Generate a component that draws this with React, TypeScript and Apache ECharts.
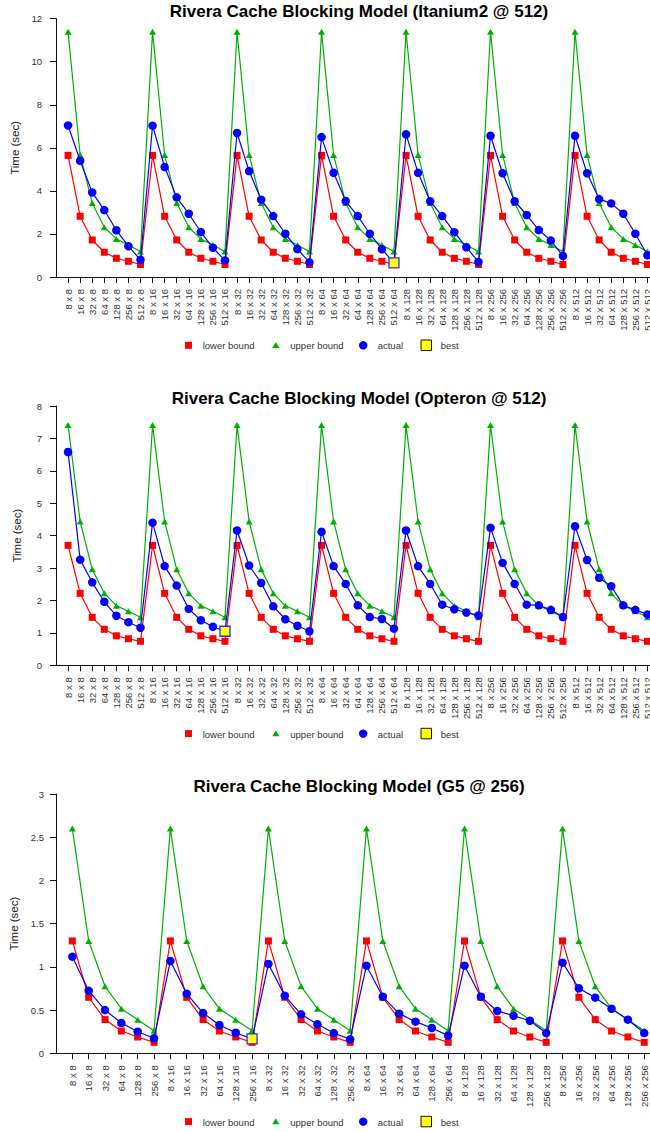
import React, { useEffect, useRef } from "react";
import * as echarts from "echarts";

// ---------- data ----------
const blocks512 = [8, 16, 32, 64, 128, 256, 512];
const blocks256 = [8, 16, 32, 64, 128, 256];

const labels512 = blocks512.flatMap((outer) => blocks512.map((inner) => `${inner} x ${outer}`));
const labels256 = blocks256.flatMap((outer) => blocks256.map((inner) => `${inner} x ${outer}`));

const itaniumLower = [
  5.65, 2.82, 1.72, 1.15, 0.87, 0.73, 0.58,
  5.65, 2.82, 1.72, 1.15, 0.87, 0.73, 0.58,
  5.65, 2.82, 1.72, 1.15, 0.87, 0.73, 0.58,
  5.65, 2.82, 1.72, 1.15, 0.87, 0.73, 0.58,
  5.65, 2.82, 1.72, 1.15, 0.87, 0.73, 0.58,
  5.65, 2.82, 1.72, 1.15, 0.87, 0.73, 0.58,
  5.65, 2.82, 1.72, 1.15, 0.87, 0.73, 0.58,
];
const itaniumUpper = [
  11.39, 5.67, 3.44, 2.31, 1.77, 1.49, 1.18,
  11.39, 5.67, 3.44, 2.31, 1.77, 1.49, 1.18,
  11.39, 5.67, 3.44, 2.31, 1.77, 1.49, 1.18,
  11.39, 5.67, 3.44, 2.31, 1.77, 1.49, 1.18,
  11.39, 5.67, 3.44, 2.31, 1.77, 1.49, 1.18,
  11.39, 5.67, 3.44, 2.31, 1.77, 1.49, 1.18,
  11.39, 5.67, 3.44, 2.31, 1.77, 1.49, 1.18,
];
const itaniumActual = [
  7.04, 5.40, 3.93, 3.11, 2.17, 1.43, 0.80,
  7.03, 5.11, 3.70, 2.94, 2.09, 1.36, 0.77,
  6.69, 4.92, 3.59, 2.83, 2.01, 1.30, 0.68,
  6.50, 4.84, 3.53, 2.83, 2.01, 1.29, 0.66,
  6.63, 4.84, 3.52, 2.83, 2.08, 1.38, 0.70,
  6.56, 4.82, 3.52, 2.88, 2.18, 1.69, 0.98,
  6.56, 4.82, 3.62, 3.42, 2.94, 2.01, 1.01,
];
const itaniumBestLabel = "512 x 64";
const itaniumBestValue = 0.66;

const opteronLower = [
  3.70, 2.22, 1.48, 1.11, 0.91, 0.82, 0.74,
  3.70, 2.22, 1.48, 1.11, 0.91, 0.82, 0.74,
  3.70, 2.22, 1.48, 1.11, 0.91, 0.82, 0.74,
  3.70, 2.22, 1.48, 1.11, 0.91, 0.82, 0.74,
  3.70, 2.22, 1.48, 1.11, 0.91, 0.82, 0.74,
  3.70, 2.22, 1.48, 1.11, 0.91, 0.82, 0.74,
  3.70, 2.22, 1.48, 1.11, 0.91, 0.82, 0.74,
];
const opteronUpper = [
  7.41, 4.44, 2.96, 2.22, 1.84, 1.67, 1.48,
  7.41, 4.44, 2.96, 2.22, 1.84, 1.67, 1.48,
  7.41, 4.44, 2.96, 2.22, 1.84, 1.67, 1.48,
  7.41, 4.44, 2.96, 2.22, 1.84, 1.67, 1.48,
  7.41, 4.44, 2.96, 2.22, 1.84, 1.67, 1.48,
  7.41, 4.44, 2.96, 2.22, 1.84, 1.67, 1.48,
  7.41, 4.44, 2.96, 2.22, 1.84, 1.67, 1.48,
];
const opteronActual = [
  6.58, 3.26, 2.56, 1.96, 1.53, 1.33, 1.16,
  4.40, 3.06, 2.46, 1.74, 1.39, 1.19, 1.05,
  4.16, 3.08, 2.54, 1.82, 1.42, 1.22, 1.05,
  4.12, 3.06, 2.51, 1.85, 1.49, 1.43, 1.13,
  4.16, 3.06, 2.51, 1.87, 1.73, 1.63, 1.54,
  4.24, 3.16, 2.51, 1.87, 1.85, 1.71, 1.49,
  4.29, 3.25, 2.70, 2.44, 1.85, 1.71, 1.57,
];
const opteronBestLabel = "512 x 16";
const opteronBestValue = 1.05;

const g5Lower = [
  1.30, 0.648, 0.39, 0.258, 0.189, 0.127,
  1.30, 0.648, 0.39, 0.258, 0.189, 0.127,
  1.30, 0.648, 0.39, 0.258, 0.189, 0.127,
  1.30, 0.648, 0.39, 0.258, 0.189, 0.127,
  1.30, 0.648, 0.39, 0.258, 0.189, 0.127,
  1.30, 0.648, 0.39, 0.258, 0.189, 0.127,
];
const g5Upper = [
  2.60, 1.30, 0.775, 0.516, 0.389, 0.26,
  2.60, 1.30, 0.775, 0.516, 0.389, 0.26,
  2.60, 1.30, 0.775, 0.516, 0.389, 0.26,
  2.60, 1.30, 0.775, 0.516, 0.389, 0.26,
  2.60, 1.30, 0.775, 0.516, 0.389, 0.26,
  2.60, 1.30, 0.775, 0.516, 0.389, 0.26,
];
const g5Actual = [
  1.118, 0.725, 0.50, 0.35, 0.25, 0.174,
  1.068, 0.69, 0.466, 0.328, 0.238, 0.167,
  1.034, 0.667, 0.451, 0.336, 0.234, 0.162,
  1.014, 0.655, 0.459, 0.366, 0.293, 0.204,
  1.014, 0.655, 0.49, 0.435, 0.377, 0.234,
  1.049, 0.752, 0.644, 0.516, 0.389, 0.234,
];
const g5BestLabel = "256 x 16";
const g5BestValue = 0.167;

const titles = [
  "Rivera Cache Blocking Model (Itanium2 @ 512)",
  "Rivera Cache Blocking Model (Opteron @ 512)",
  "Rivera Cache Blocking Model (G5 @ 256)",
];
const yMax = [12, 8, 3];
const yInterval = [2, 1, 0.5];
const legendNames = ["lower bound", "upper bound", "actual", "best"];

// ---------- styling / layout ----------
const FONT = "'Liberation Sans', Arial, Helvetica, sans-serif";
const RED = "#ff0000";
const GREEN = "#00b000";
const BLUE = "#0000ff";
const YELLOW = "#ffff00";
const TITLE_CENTER_X = 359;
const TITLE_SIZE = 17;

const panels = [
  { labels: labels512, lower: itaniumLower, upper: itaniumUpper, actual: itaniumActual, bestLabel: itaniumBestLabel, bestValue: itaniumBestValue, top: 18.7, bottom: 277, step: 12.07 },
  { labels: labels512, lower: opteronLower, upper: opteronUpper, actual: opteronActual, bestLabel: opteronBestLabel, bestValue: opteronBestValue, top: 406, bottom: 665.3, step: 12.07 },
  { labels: labels256, lower: g5Lower, upper: g5Upper, actual: g5Actual, bestLabel: g5BestLabel, bestValue: g5BestValue, top: 794, bottom: 1053.3, step: 16.34 },
];

function buildOption() {
  const grid: any[] = [];
  const xAxis: any[] = [];
  const yAxis: any[] = [];
  const series: any[] = [];
  const graphic: any[] = [];

  panels.forEach((p, k) => {
    const cats = ["", ...p.labels, ""];
    grid.push({
      left: 56,
      top: p.top,
      width: p.step * (cats.length - 1),
      height: p.bottom - p.top,
      outerBoundsMode: "none",
      containLabel: false,
    });
    xAxis.push({
      type: "category",
      gridIndex: k,
      data: cats,
      boundaryGap: false,
      axisLine: { show: true, lineStyle: { color: "#111", width: 1 } },
      axisTick: {
        show: true,
        length: 6,
        lineStyle: { color: "#111" },
        interval: (i: number) => i > 0 && i < cats.length - 1,
      },
      axisLabel: {
        interval: 0,
        rotate: 90,
        margin: 12,
        fontSize: 9.5,
        color: "#333",
        fontFamily: FONT,
      },
      splitLine: { show: false },
    });
    yAxis.push({
      type: "value",
      gridIndex: k,
      min: 0,
      max: yMax[k],
      interval: yInterval[k],
      name: "Time (sec)",
      nameLocation: "middle",
      nameGap: 33,
      nameTextStyle: { fontSize: 11.5, color: "#222", fontFamily: FONT },
      axisLine: { show: true, lineStyle: { color: "#111", width: 1 } },
      axisTick: { show: true, length: 6, lineStyle: { color: "#111" } },
      axisLabel: { margin: k === 2 ? 12 : 14, fontSize: 9.5, color: "#333", fontFamily: FONT },
      splitLine: { show: false },
    });

    const toPts = (arr: number[]) => arr.map((v, i) => [i + 1, v]);
    const common = {
      type: "line",
      xAxisIndex: k,
      yAxisIndex: k,
      showSymbol: true,
      showAllSymbol: true,
      emphasis: { disabled: true },
      silent: true,
    };
    series.push({
      ...common,
      name: legendNames[0],
      data: toPts(p.lower),
      symbol: "rect",
      symbolSize: 7,
      lineStyle: { color: RED, width: 1.2 },
      itemStyle: { color: RED },
      z: 2,
    });
    series.push({
      ...common,
      name: legendNames[1],
      data: toPts(p.upper),
      symbol: "triangle",
      symbolSize: [7, 6],
      lineStyle: { color: GREEN, width: 1.2 },
      itemStyle: { color: GREEN },
      z: 3,
    });
    series.push({
      ...common,
      name: legendNames[2],
      data: toPts(p.actual),
      symbol: "circle",
      symbolSize: 8.5,
      lineStyle: { color: BLUE, width: 1.2 },
      itemStyle: { color: BLUE },
      z: 4,
    });
    series.push({
      type: "scatter",
      name: legendNames[3],
      xAxisIndex: k,
      yAxisIndex: k,
      data: [[p.labels.indexOf(p.bestLabel) + 1, p.bestValue]],
      symbol: "rect",
      symbolSize: 10,
      itemStyle: { color: YELLOW, borderColor: "#2a2aff", borderWidth: 1.3, opacity: 1 },
      emphasis: { disabled: true },
      silent: true,
      z: 5,
    });

    // title, centred over the plot region
    graphic.push({
      type: "text",
      x: TITLE_CENTER_X,
      y: p.top - 7.5,
      style: {
        text: titles[k],
        fontSize: TITLE_SIZE,
        fontWeight: "bold",
        fill: "#000",
        fontFamily: FONT,
        align: "center",
        verticalAlign: "middle",
      },
    });

    // legend (drawn below each panel)
    const L = p.bottom + 68.3;
    const tStyle = { fontSize: 9.5, fill: "#333", fontFamily: FONT, verticalAlign: "middle" };
    graphic.push(
      { type: "rect", shape: { x: 185, y: L - 3.5, width: 7, height: 7 }, style: { fill: RED } },
      { type: "text", x: 202.7, y: L + 0.5, style: { text: legendNames[0], ...tStyle } },
      { type: "polygon", shape: { points: [[272.3, L + 2.7], [279.3, L + 2.7], [275.8, L - 3.3]] }, style: { fill: GREEN } },
      { type: "text", x: 290.3, y: L + 0.5, style: { text: legendNames[1], ...tStyle } },
      { type: "circle", shape: { cx: 363.2, cy: L, r: 4.2 }, style: { fill: BLUE } },
      { type: "text", x: 377.7, y: L + 0.5, style: { text: legendNames[2], ...tStyle } },
      { type: "rect", shape: { x: 421, y: L - 5.3, width: 10.5, height: 10.5 }, style: { fill: YELLOW, stroke: "#111", lineWidth: 1 } },
      { type: "text", x: 440.7, y: L + 0.5, style: { text: legendNames[3], ...tStyle } }
    );
  });

  return {
    animation: false,
    backgroundColor: "#ffffff",
    textStyle: { fontFamily: FONT },
    grid,
    xAxis,
    yAxis,
    series,
    graphic,
  };
}

export default function App() {
  const ref = useRef<HTMLDivElement>(null);
  useEffect(() => {
    if (!ref.current) return;
    const chart = echarts.init(ref.current, undefined, { renderer: "svg" });
    chart.setOption(buildOption() as any);
    return () => chart.dispose();
  }, []);
  return (
    <div
      ref={ref}
      style={{ position: "absolute", left: 0, top: 0, width: 650, height: 1132, background: "#fff" }}
    />
  );
}
